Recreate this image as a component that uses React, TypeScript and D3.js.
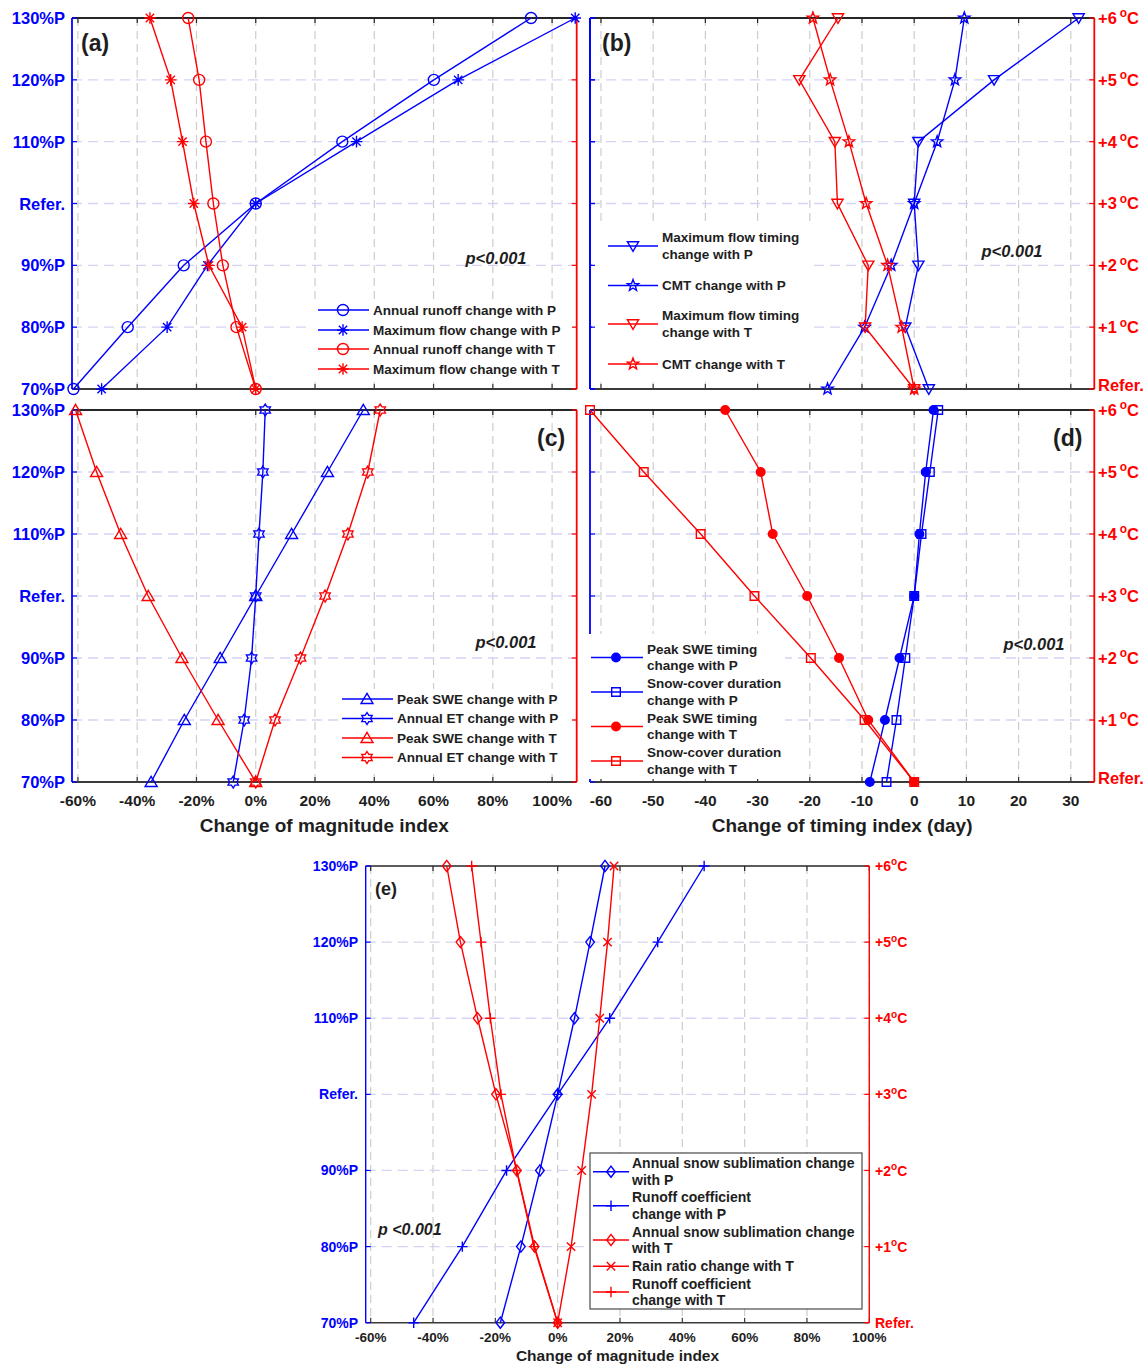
import React from 'react';
import * as d3 from 'd3';

const FONT = '"Liberation Sans", Arial, Helvetica, sans-serif';
const BLUE = '#0000ff';
const RED = '#ff0000';
const INK = '#1e1e1e';

// Y levels: precipitation scenarios (left axis) and warming scenarios (right axis)
const pLevels = ['70%P', '80%P', '90%P', 'Refer.', '110%P', '120%P', '130%P'];
const tLevels = ['Refer.', '+1', '+2', '+3', '+4', '+5', '+6'];

const magnitudeTicks = [-60, -40, -20, 0, 20, 40, 60, 80, 100];
const timingTicks = [-60, -50, -40, -30, -20, -10, 0, 10, 20, 30];

// (a) magnitude of runoff (%), ordered from the lowest level upward
const annualRunoffP = [-61.5, -43.2, -24.3, 0, 29.2, 60.1, 92.9];
const maxFlowP = [-52.0, -29.9, -16.3, 0, 34.0, 68.3, 107.8];
const annualRunoffT = [0, -6.5, -11.1, -14.3, -16.8, -19.1, -22.8];
const maxFlowT = [0, -4.6, -15.8, -20.9, -24.7, -28.7, -35.7];

// (b) timing of flow (day)
const maxFlowTimingP = [2.8, -1.7, 0.8, 0, 0.8, 15.3, 31.5];
const cmtP = [-16.6, -9.5, -4.4, 0, 4.4, 7.8, 9.6];
const maxFlowTimingT = [0, -9.4, -8.8, -14.7, -15.2, -22.0, -14.6];
const cmtT = [0, -2.4, -5.1, -9.2, -12.5, -16.1, -19.4];

// (c) snow and ET magnitude (%)
const peakSweP = [-35.3, -24.1, -12.0, 0, 12.1, 24.2, 36.3];
const annualEtP = [-7.6, -3.9, -1.4, 0, 1.1, 2.4, 3.2];
const peakSweT = [0, -12.7, -24.9, -36.3, -45.6, -53.7, -60.8];
const annualEtT = [0, 6.5, 15.1, 23.4, 31.1, 37.8, 42.0];

// (d) snow timing (day)
const peakSweTimingP = [-8.5, -5.6, -2.8, 0, 1.0, 2.2, 3.7];
const snowCoverP = [-5.3, -3.4, -1.7, 0, 1.4, 3.0, 4.6];
const peakSweTimingT = [0, -8.8, -14.4, -20.5, -27.1, -29.4, -36.2];
const snowCoverT = [0, -9.5, -19.8, -30.6, -40.9, -51.8, -62.1];

// (e) sublimation, runoff coefficient and rain ratio (%)
const sublimationP = [-18.4, -11.8, -5.7, 0, 5.4, 10.4, 15.2];
const runoffCoefP = [-46.2, -30.6, -16.4, 0, 16.7, 32.1, 47.0];
const sublimationT = [0, -7.4, -13.1, -19.8, -25.7, -31.2, -35.6];
const rainRatioT = [0, 4.3, 7.7, 10.9, 13.5, 16.0, 18.1];
const runoffCoefT = [0, -7.6, -13.2, -18.2, -21.6, -24.6, -27.6];

type Marker = 'o' | '*' | 'v' | '^' | 'p' | 'h' | '.' | 's' | 'd' | '+' | 'x';

function starPath(n: number, ro: number, ri: number): string {
  const pts: string[] = [];
  for (let k = 0; k < 2 * n; k++) {
    const a = -Math.PI / 2 + (k * Math.PI) / n;
    const r = k % 2 ? ri : ro;
    pts.push(`${(r * Math.cos(a)).toFixed(2)} ${(r * Math.sin(a)).toFixed(2)}`);
  }
  return 'M' + pts.join(' L') + ' Z';
}

function markerPath(kind: Marker, s: number): string {
  switch (kind) {
    case 'o':
    case '.':
      return `M ${s} 0 A ${s} ${s} 0 1 1 ${-s} 0 A ${s} ${s} 0 1 1 ${s} 0 Z`;
    case '*': {
      const c = s * 0.72;
      return `M ${-s} 0 H ${s} M 0 ${-s} V ${s} M ${-c} ${-c} L ${c} ${c} M ${-c} ${c} L ${c} ${-c}`;
    }
    case 'v':
      return `M ${-s} ${-0.75 * s} L ${s} ${-0.75 * s} L 0 ${0.95 * s} Z`;
    case '^':
      return `M ${-s} ${0.75 * s} L ${s} ${0.75 * s} L 0 ${-0.95 * s} Z`;
    case 's':
      return `M ${-s} ${-s} H ${s} V ${s} H ${-s} Z`;
    case 'd':
      return `M 0 ${-1.3 * s} L ${s} 0 L 0 ${1.3 * s} L ${-s} 0 Z`;
    case '+':
      return `M ${-s} 0 H ${s} M 0 ${-s} V ${s}`;
    case 'x':
      return `M ${-s} ${-s} L ${s} ${s} M ${-s} ${s} L ${s} ${-s}`;
    case 'p':
      return starPath(5, s, s * 0.42);
    case 'h':
      return starPath(6, s, s * 0.6);
  }
  return '';
}

function MarkerMark({ kind, x, y, size, color }: { kind: Marker; x: number; y: number; size: number; color: string }) {
  const filled = kind === '.';
  return (
    <path
      d={markerPath(kind, size)}
      transform={`translate(${x},${y})`}
      fill={filled ? color : 'none'}
      stroke={color}
      strokeWidth={1.4}
    />
  );
}

interface Series {
  values: number[];
  color: string;
  marker: Marker;
  size: number;
}

interface LegendRow {
  series: number;
  y: number;
  text: string[];
}

interface PanelSpec {
  box: { x0: number; x1: number; y0: number; y1: number };
  xDomain: [number, number];
  xTicks: number[];
  tickFormat: (v: number) => string;
  showTickLabels: boolean;
  tickLabelY: number;
  tickLabelSize: number;
  xTitle?: string;
  xTitleY?: number;
  xTitleSize?: number;
  leftLabels: boolean;
  leftLabelX: number;
  leftLabelSize: number;
  rightLabels: boolean;
  rightLabelX: number;
  rightLabelSize: number;
  degreeGap: number;
  referOffset: number;
  axisWidth: number;
  series: Series[];
  legend: {
    rect: [number, number, number, number];
    border: boolean;
    lineX: [number, number];
    markerX: number;
    textX: number;
    fontSize: number;
    lineSpacing: number;
    rows: LegendRow[];
  };
  axisOverLegend: boolean;
  label: { text: string; x: number; y: number; size: number };
  pText: { text: string; x: number; y: number; size: number; anchor: 'start' | 'middle' };
}

function DegreeLabel({ x, y, text, size, gap }: { x: number; y: number; text: string; size: number; gap: number }) {
  const base = y + size * 0.36;
  if (text === 'Refer.') {
    return (
      <text x={x} y={base} fill={RED} fontSize={size} fontWeight="bold" fontFamily={FONT}>
        {text}
      </text>
    );
  }
  const lift = size * 0.4;
  return (
    <text x={x} y={base} fill={RED} fontSize={size} fontWeight="bold" fontFamily={FONT}>
      {text}
      <tspan fontSize={size * 0.72} dx={gap} dy={-lift}>o</tspan>
      <tspan dy={lift}>C</tspan>
    </text>
  );
}

function Panel({ spec }: { spec: PanelSpec }) {
  const { box } = spec;
  const x = d3.scaleLinear().domain(spec.xDomain).range([box.x0, box.x1]);
  const y = d3.scaleLinear().domain([0, pLevels.length - 1]).range([box.y1, box.y0]);
  const line = d3
    .line<number>()
    .x((v) => x(v))
    .y((_, i) => y(i));
  const levelIdx = d3.range(pLevels.length);
  const tickLen = 5;

  const leftAxis = (
    <g>
      <line x1={box.x0} x2={box.x0} y1={box.y0} y2={box.y1} stroke={BLUE} strokeWidth={spec.axisWidth} />
      {levelIdx.map((i) => (
        <line key={i} x1={box.x0} x2={box.x0 + tickLen} y1={y(i)} y2={y(i)} stroke={BLUE} strokeWidth={1.2} />
      ))}
    </g>
  );

  const axes = (
    <g>
      {/* top and bottom frame with inward ticks */}
      <line x1={box.x0} x2={box.x1} y1={box.y0} y2={box.y0} stroke="#262626" strokeWidth={spec.axisWidth} />
      <line x1={box.x0} x2={box.x1} y1={box.y1} y2={box.y1} stroke="#3a3a3a" strokeWidth={spec.axisWidth} />
      {spec.xTicks.map((t) => (
        <g key={t}>
          <line x1={x(t)} x2={x(t)} y1={box.y0} y2={box.y0 + tickLen} stroke="#262626" strokeWidth={1.2} />
          <line x1={x(t)} x2={x(t)} y1={box.y1} y2={box.y1 - tickLen} stroke="#3a3a3a" strokeWidth={1.2} />
        </g>
      ))}
      {leftAxis}
      <line x1={box.x1} x2={box.x1} y1={box.y0} y2={box.y1} stroke={RED} strokeWidth={spec.axisWidth} />
      {levelIdx.map((i) => (
        <line key={i} x1={box.x1} x2={box.x1 - tickLen} y1={y(i)} y2={y(i)} stroke={RED} strokeWidth={1.2} />
      ))}
    </g>
  );

  const lg = spec.legend;

  return (
    <g>
      {/* grid */}
      {spec.xTicks.map((t) => (
        <line
          key={'gx' + t}
          x1={x(t)}
          x2={x(t)}
          y1={box.y0}
          y2={box.y1}
          stroke="#cdcdcd"
          strokeWidth={1.2}
          strokeDasharray="8 5"
        />
      ))}
      {levelIdx.slice(1, -1).map((i) => (
        <line
          key={'gy' + i}
          x1={box.x0}
          x2={box.x1}
          y1={y(i)}
          y2={y(i)}
          stroke="#d3d3f5"
          strokeWidth={1.3}
          strokeDasharray="10 6"
        />
      ))}

      {axes}

      {/* series */}
      {spec.series.map((s, si) => (
        <g key={'s' + si}>
          <path d={line(s.values) || ''} fill="none" stroke={s.color} strokeWidth={1.4} />
          {s.values.map((v, i) => (
            <MarkerMark key={i} kind={s.marker} x={x(v)} y={y(i)} size={s.size} color={s.color} />
          ))}
        </g>
      ))}

      {/* legend */}
      <rect
        x={lg.rect[0]}
        y={lg.rect[1]}
        width={lg.rect[2] - lg.rect[0]}
        height={lg.rect[3] - lg.rect[1]}
        fill="#ffffff"
        stroke={lg.border ? '#4a4a4a' : 'none'}
        strokeWidth={1.2}
      />
      {lg.rows.map((r, ri) => {
        const s = spec.series[r.series];
        const n = r.text.length;
        return (
          <g key={'l' + ri}>
            <line x1={lg.lineX[0]} x2={lg.lineX[1]} y1={r.y} y2={r.y} stroke={s.color} strokeWidth={1.4} />
            <MarkerMark kind={s.marker} x={lg.markerX} y={r.y} size={s.size} color={s.color} />
            {r.text.map((t, ti) => (
              <text
                key={ti}
                x={lg.textX}
                y={r.y + (ti - (n - 1) / 2) * lg.lineSpacing}
                dominantBaseline="central"
                fontSize={lg.fontSize}
                fontWeight="bold"
                fontFamily={FONT}
                fill={INK}
              >
                {t}
              </text>
            ))}
          </g>
        );
      })}

      {spec.axisOverLegend && leftAxis}

      {/* tick labels */}
      {spec.showTickLabels &&
        spec.xTicks.map((t) => (
          <text
            key={'tl' + t}
            x={x(t)}
            y={spec.tickLabelY}
            textAnchor="middle"
            dominantBaseline="central"
            fontSize={spec.tickLabelSize}
            fontWeight="bold"
            fontFamily={FONT}
            fill={INK}
          >
            {spec.tickFormat(t)}
          </text>
        ))}
      {spec.xTitle && (
        <text
          x={(box.x0 + box.x1) / 2}
          y={spec.xTitleY}
          textAnchor="middle"
          dominantBaseline="central"
          fontSize={spec.xTitleSize}
          fontWeight="bold"
          fontFamily={FONT}
          fill={INK}
        >
          {spec.xTitle}
        </text>
      )}
      {spec.leftLabels &&
        pLevels.map((p, i) => (
          <text
            key={'pl' + i}
            x={spec.leftLabelX}
            y={y(i)}
            textAnchor="end"
            dominantBaseline="central"
            fontSize={spec.leftLabelSize}
            fontWeight="bold"
            fontFamily={FONT}
            fill={BLUE}
          >
            {p}
          </text>
        ))}
      {spec.rightLabels &&
        tLevels.map((t, i) => (
          <DegreeLabel
            key={'tl' + i}
            x={spec.rightLabelX}
            y={i === 0 ? y(i) + spec.referOffset : y(i)}
            text={t}
            size={spec.rightLabelSize}
            gap={spec.degreeGap}
          />
        ))}

      {/* panel tag and significance note */}
      <text
        x={spec.label.x}
        y={spec.label.y}
        dominantBaseline="central"
        fontSize={spec.label.size}
        fontWeight="bold"
        fontFamily={FONT}
        fill={INK}
      >
        {spec.label.text}
      </text>
      <text
        x={spec.pText.x}
        y={spec.pText.y}
        textAnchor={spec.pText.anchor}
        dominantBaseline="central"
        fontSize={spec.pText.size}
        fontWeight="bold"
        fontStyle="italic"
        fontFamily={FONT}
        fill={INK}
      >
        {spec.pText.text}
      </text>
    </g>
  );
}

const pct = (v: number) => `${v}%`;
const day = (v: number) => `${v}`;

const common = {
  tickLabelY: 800,
  tickLabelSize: 15.5,
  xTitleY: 825,
  xTitleSize: 19,
  leftLabelX: 65,
  leftLabelSize: 16.5,
  rightLabelX: 1098,
  rightLabelSize: 16.5,
  degreeGap: 3,
  referOffset: -3.5,
  axisWidth: 1.8,
};

const panels: PanelSpec[] = [
  {
    ...common,
    box: { x0: 72, x1: 576.7, y0: 18, y1: 389 },
    xDomain: [-62, 108.3],
    xTicks: magnitudeTicks,
    tickFormat: pct,
    showTickLabels: false,
    leftLabels: true,
    rightLabels: false,
    series: [
      { values: annualRunoffP, color: BLUE, marker: 'o', size: 5.5 },
      { values: maxFlowP, color: BLUE, marker: '*', size: 5.8 },
      { values: annualRunoffT, color: RED, marker: 'o', size: 5.5 },
      { values: maxFlowT, color: RED, marker: '*', size: 5.8 },
    ],
    legend: {
      rect: [312, 299, 572, 380],
      border: false,
      lineX: [318, 369],
      markerX: 343,
      textX: 373,
      fontSize: 13.5,
      lineSpacing: 17,
      rows: [
        { series: 0, y: 310, text: ['Annual runoff change with P'] },
        { series: 1, y: 330, text: ['Maximum flow change with P'] },
        { series: 2, y: 349, text: ['Annual runoff change with T'] },
        { series: 3, y: 369, text: ['Maximum flow change with T'] },
      ],
    },
    axisOverLegend: false,
    label: { text: '(a)', x: 81, y: 43, size: 23 },
    pText: { text: 'p<0.001', x: 496, y: 258, size: 16.5, anchor: 'middle' },
  },
  {
    ...common,
    box: { x0: 590, x1: 1094.3, y0: 18, y1: 389 },
    xDomain: [-62.1, 34.5],
    xTicks: timingTicks,
    tickFormat: day,
    showTickLabels: false,
    leftLabels: false,
    rightLabels: true,
    series: [
      { values: maxFlowTimingP, color: BLUE, marker: 'v', size: 5.6 },
      { values: cmtP, color: BLUE, marker: 'p', size: 6 },
      { values: maxFlowTimingT, color: RED, marker: 'v', size: 5.6 },
      { values: cmtT, color: RED, marker: 'p', size: 6 },
    ],
    legend: {
      rect: [592, 226, 812, 382],
      border: false,
      lineX: [608, 658],
      markerX: 633,
      textX: 662,
      fontSize: 13.5,
      lineSpacing: 16.5,
      rows: [
        { series: 0, y: 246, text: ['Maximum flow timing', 'change with P'] },
        { series: 1, y: 285.5, text: ['CMT change with P'] },
        { series: 2, y: 324, text: ['Maximum flow timing', 'change with T'] },
        { series: 3, y: 364, text: ['CMT change with T'] },
      ],
    },
    axisOverLegend: true,
    label: { text: '(b)', x: 602, y: 43, size: 23 },
    pText: { text: 'p<0.001', x: 1012, y: 251, size: 16.5, anchor: 'middle' },
  },
  {
    ...common,
    box: { x0: 72, x1: 576.7, y0: 410, y1: 782 },
    xDomain: [-62, 108.3],
    xTicks: magnitudeTicks,
    tickFormat: pct,
    showTickLabels: true,
    xTitle: 'Change of magnitude index',
    leftLabels: true,
    rightLabels: false,
    series: [
      { values: peakSweP, color: BLUE, marker: '^', size: 6 },
      { values: annualEtP, color: BLUE, marker: 'h', size: 6 },
      { values: peakSweT, color: RED, marker: '^', size: 6 },
      { values: annualEtT, color: RED, marker: 'h', size: 6 },
    ],
    legend: {
      rect: [338, 689, 572, 769],
      border: false,
      lineX: [342, 393],
      markerX: 367,
      textX: 397,
      fontSize: 13.5,
      lineSpacing: 17,
      rows: [
        { series: 0, y: 699, text: ['Peak SWE change with P'] },
        { series: 1, y: 718.5, text: ['Annual ET change with P'] },
        { series: 2, y: 738, text: ['Peak SWE change with T'] },
        { series: 3, y: 757.5, text: ['Annual ET change with T'] },
      ],
    },
    axisOverLegend: false,
    label: { text: '(c)', x: 537, y: 438, size: 23 },
    pText: { text: 'p<0.001', x: 506, y: 642, size: 16.5, anchor: 'middle' },
  },
  {
    ...common,
    box: { x0: 590, x1: 1094.3, y0: 410, y1: 782 },
    xDomain: [-62.1, 34.5],
    xTicks: timingTicks,
    tickFormat: day,
    showTickLabels: true,
    xTitle: 'Change of timing index (day)',
    leftLabels: false,
    rightLabels: true,
    series: [
      { values: peakSweTimingP, color: BLUE, marker: '.', size: 4.3 },
      { values: snowCoverP, color: BLUE, marker: 's', size: 4.3 },
      { values: peakSweTimingT, color: RED, marker: '.', size: 4.3 },
      { values: snowCoverT, color: RED, marker: 's', size: 4.3 },
    ],
    legend: {
      rect: [586, 634, 785, 779],
      border: false,
      lineX: [591, 643],
      markerX: 616,
      textX: 647,
      fontSize: 13.5,
      lineSpacing: 16.5,
      rows: [
        { series: 0, y: 657.5, text: ['Peak SWE timing', 'change with P'] },
        { series: 1, y: 692, text: ['Snow-cover duration', 'change with P'] },
        { series: 2, y: 726.5, text: ['Peak SWE timing', 'change with T'] },
        { series: 3, y: 761, text: ['Snow-cover duration', 'change with T'] },
      ],
    },
    axisOverLegend: false,
    label: { text: '(d)', x: 1053, y: 438, size: 23 },
    pText: { text: 'p<0.001', x: 1034, y: 644, size: 16.5, anchor: 'middle' },
  },
  {
    ...common,
    box: { x0: 365.7, x1: 869.3, y0: 866, y1: 1322.7 },
    xDomain: [-61.6, 100],
    xTicks: magnitudeTicks,
    tickFormat: pct,
    showTickLabels: true,
    tickLabelY: 1337,
    tickLabelSize: 13.5,
    xTitle: 'Change of magnitude index',
    xTitleY: 1355,
    xTitleSize: 15.5,
    leftLabels: true,
    leftLabelX: 358,
    leftLabelSize: 14,
    rightLabels: true,
    rightLabelX: 875,
    rightLabelSize: 14,
    degreeGap: 0,
    referOffset: 0,
    axisWidth: 1.4,
    series: [
      { values: sublimationP, color: BLUE, marker: 'd', size: 4.3 },
      { values: runoffCoefP, color: BLUE, marker: '+', size: 5.2 },
      { values: sublimationT, color: RED, marker: 'd', size: 4.3 },
      { values: rainRatioT, color: RED, marker: 'x', size: 4.2 },
      { values: runoffCoefT, color: RED, marker: '+', size: 5.2 },
    ],
    legend: {
      rect: [590, 1153, 862, 1309],
      border: true,
      lineX: [593, 629],
      markerX: 611,
      textX: 632,
      fontSize: 14,
      lineSpacing: 16.8,
      rows: [
        { series: 0, y: 1171.7, text: ['Annual snow sublimation change', 'with P'] },
        { series: 1, y: 1205.8, text: ['Runoff coefficient', 'change with P'] },
        { series: 2, y: 1240, text: ['Annual snow sublimation change', 'with T'] },
        { series: 3, y: 1266.3, text: ['Rain ratio change with T'] },
        { series: 4, y: 1292, text: ['Runoff coefficient', 'change with T'] },
      ],
    },
    axisOverLegend: false,
    label: { text: '(e)', x: 375, y: 889, size: 18 },
    pText: { text: 'p <0.001', x: 378, y: 1229, size: 16, anchor: 'start' },
  },
];

export default function App() {
  return (
    <svg
      width={1148}
      height={1364}
      viewBox="0 0 1148 1364"
      style={{ position: 'absolute', left: 0, top: 0, background: '#ffffff' }}
    >
      <rect x={0} y={0} width={1148} height={1364} fill="#ffffff" />
      {panels.map((p, i) => (
        <Panel key={i} spec={p} />
      ))}
    </svg>
  );
}
